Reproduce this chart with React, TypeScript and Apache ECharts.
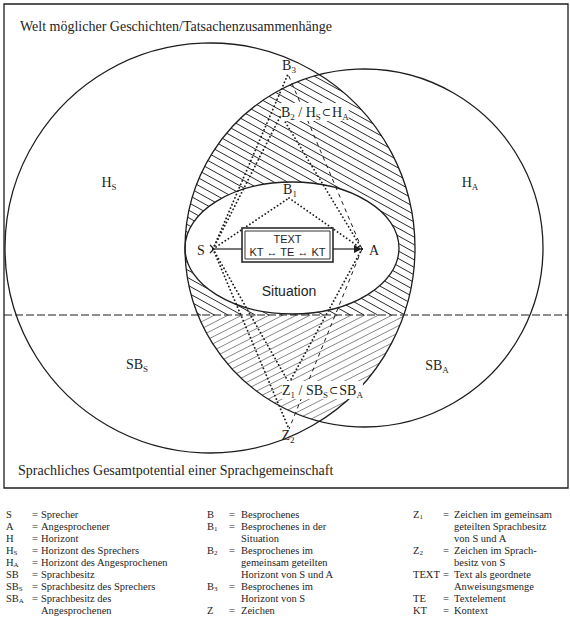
import React, { useEffect, useRef } from 'react';
import * as echarts from 'echarts';

const W = 570;
const H = 630;

// ---- diagram geometry (data units == page pixels) ----
const frameBox = [4, 4, 568, 488];
const dividerY = 315;
const circleCenters = [[210, 248], [364, 248]];
const circleRadii = [205, 179];
const situationCenter = [292, 248];
const situationRadii = [107, 66];
const pointNames = ['S', 'A', 'B1', 'B2', 'B3', 'Z1', 'Z2'];
const pointCoords = [[213, 249], [362, 249], [289, 198], [281, 115], [288, 74], [289, 383], [289, 429]];
const dottedLinks = [['S', 'B1'], ['B1', 'A'], ['S', 'B2'], ['S', 'B3'], ['S', 'Z1'], ['S', 'Z2'], ['A', 'B2'], ['A', 'Z1']];
const dashedLinks = [['A', 'B3'], ['A', 'Z2']];
const textBox = [242, 228, 333, 262];

// ---- texts ----
const titleTop = 'Welt möglicher Geschichten/Tatsachenzusammenhänge';
const titleBottom = 'Sprachliches Gesamtpotential einer Sprachgemeinschaft';
const regionLabels = [
  { text: 'H{s|S}', x: 109, y: 182 },
  { text: 'H{s|A}', x: 470, y: 182 },
  { text: 'SB{s|S}', x: 137, y: 364 },
  { text: 'SB{s|A}', x: 437, y: 365 },
];
const pointLabels = [
  { text: 'S', x: 201, y: 250, align: 'center', knock: false },
  { text: 'A', x: 374, y: 250, align: 'center', knock: false },
  { text: 'B{s|1}', x: 290, y: 189, align: 'center', knock: false },
  { text: 'B{s|3}', x: 289, y: 65, align: 'center', knock: false },
  { text: 'B{s|2} / H{s|S}{c|⊂}H{s|A}', x: 281, y: 112, align: 'left', knock: true },
  { text: 'Z{s|1} / SB{s|S}{c|⊂}SB{s|A}', x: 282, y: 390, align: 'left', knock: true },
  { text: 'Z{s|2}', x: 288, y: 435, align: 'center', knock: false },
];
const boxLine1 = 'TEXT';
const boxLine2 = 'KT ↔ TE ↔ KT';
const situationLabel = 'Situation';

const legendCol1 = [
  { sym: 'S', lines: ['Sprecher'] },
  { sym: 'A', lines: ['Angesprochener'] },
  { sym: 'H', lines: ['Horizont'] },
  { sym: 'H{s|S}', lines: ['Horizont des Sprechers'] },
  { sym: 'H{s|A}', lines: ['Horizont des Angesprochenen'] },
  { sym: 'SB', lines: ['Sprachbesitz'] },
  { sym: 'SB{s|S}', lines: ['Sprachbesitz des Sprechers'] },
  { sym: 'SB{s|A}', lines: ['Sprachbesitz des', 'Angesprochenen'] },
];
const legendCol2 = [
  { sym: 'B', lines: ['Besprochenes'] },
  { sym: 'B{s|1}', lines: ['Besprochenes in der', 'Situation'] },
  { sym: 'B{s|2}', lines: ['Besprochenes im', 'gemeinsam geteilten', 'Horizont von S und A'] },
  { sym: 'B{s|3}', lines: ['Besprochenes im', 'Horizont von S'] },
  { sym: 'Z', lines: ['Zeichen'] },
];
const legendCol3 = [
  { sym: 'Z{s|1}', lines: ['Zeichen im gemeinsam', 'geteilten Sprachbesitz', 'von S und A'] },
  { sym: 'Z{s|2}', lines: ['Zeichen im Sprach-', 'besitz von S'] },
  { sym: 'TEXT', lines: ['Text als geordnete', 'Anweisungsmenge'] },
  { sym: 'TE', lines: ['Textelement'] },
  { sym: 'KT', lines: ['Kontext'] },
];
const legendColumns = [legendCol1, legendCol2, legendCol3];
const legendX = [[6, 32, 41], [207, 229, 241], [413, 443, 454]];
const legendTop = 514;
const legendStep = 12;

const SERIF = '"Liberation Serif", "Times New Roman", "DejaVu Serif", serif';
const SANS = '"Liberation Sans", Arial, Helvetica, sans-serif';
const INK = '#1e1e1e';

function quad(a: number, b: number, c: number): [number, number] | null {
  const disc = b * b - 4 * a * c;
  if (disc < 0) return null;
  const s = Math.sqrt(disc);
  return [(-b - s) / (2 * a), (-b + s) / (2 * a)];
}

// hatch segments of the lens (both circles) minus the situation ellipse, on one side of the divider
function hatch(angleDeg: number, spacing: number, upper: boolean): number[][] {
  const th = (angleDeg * Math.PI) / 180;
  const dx = Math.cos(th);
  const dy = Math.sin(th);
  const nx = -dy;
  const ny = dx;
  const corners = [[150, 30], [450, 30], [150, 470], [450, 470]];
  const cs = corners.map((p) => p[0] * nx + p[1] * ny);
  const cmin = Math.floor(Math.min(...cs) / spacing) * spacing;
  const cmax = Math.max(...cs);
  const segs: number[][] = [];
  for (let c = cmin; c <= cmax; c += spacing) {
    const px = c * nx;
    const py = c * ny;
    let lo = -Infinity;
    let hi = Infinity;
    let ok = true;
    for (let i = 0; i < circleCenters.length; i++) {
      const ox = px - circleCenters[i][0];
      const oy = py - circleCenters[i][1];
      const r = circleRadii[i];
      const iv = quad(1, 2 * (dx * ox + dy * oy), ox * ox + oy * oy - r * r);
      if (!iv) { ok = false; break; }
      lo = Math.max(lo, iv[0]);
      hi = Math.min(hi, iv[1]);
    }
    if (!ok) continue;
    const tY = (dividerY - py) / dy;
    if ((dy > 0) === upper) hi = Math.min(hi, tY);
    else lo = Math.max(lo, tY);
    if (hi <= lo) continue;
    const u = (px - situationCenter[0]) / situationRadii[0];
    const du = dx / situationRadii[0];
    const v = (py - situationCenter[1]) / situationRadii[1];
    const dv = dy / situationRadii[1];
    const e = quad(du * du + dv * dv, 2 * (u * du + v * dv), u * u + v * v - 1);
    const parts: number[][] = [];
    if (!e || e[1] <= lo || e[0] >= hi) parts.push([lo, hi]);
    else {
      if (e[0] > lo) parts.push([lo, e[0]]);
      if (e[1] < hi) parts.push([e[1], hi]);
    }
    parts.forEach(([a, b]) => {
      if (b - a > 0.5) segs.push([px + a * dx, py + a * dy, px + b * dx, py + b * dy]);
    });
  }
  return segs;
}

const makeRich = (size: number, family: string) => ({
  s: { fontSize: Math.round(size * 0.66), fontFamily: family, fill: INK, lineHeight: Math.round(size * 0.62), verticalAlign: 'bottom' },
  c: { fontSize: Math.round(size * 0.8), fontFamily: family, fill: INK, lineHeight: Math.round(size * 1.1), padding: [0, 1, 0, 1] },
});

function renderItem(_params: any, api: any) {
  const P = (x: number, y: number) => api.coord([x, y]);
  const R = (r: number) => api.size([r, r])[0];
  const kids: any[] = [];

  const text = (x: number, y: number, t: string, size: number, family: string, align = 'left', extra: any = {}) => {
    const p = P(x, y);
    kids.push({
      type: 'text',
      x: p[0],
      y: p[1],
      style: {
        text: t,
        fontSize: size,
        fontFamily: family,
        fill: INK,
        lineHeight: Math.round(size * 1.25),
        align,
        verticalAlign: 'middle',
        textAlign: align,
        textVerticalAlign: 'middle',
        rich: makeRich(size, family),
        ...extra,
      },
    });
  };
  const line = (x1: number, y1: number, x2: number, y2: number, style: any) => {
    const a = P(x1, y1);
    const b = P(x2, y2);
    kids.push({ type: 'line', shape: { x1: a[0], y1: a[1], x2: b[0], y2: b[1] }, style });
  };

  // hatching
  hatch(29, 6.6, true).forEach((s) => line(s[0], s[1], s[2], s[3], { stroke: '#2a2a2a', lineWidth: 1 }));
  hatch(-27, 6.2, false).forEach((s) => line(s[0], s[1], s[2], s[3], { stroke: '#555', lineWidth: 0.7 }));

  // frame
  const f0 = P(frameBox[0], frameBox[1]);
  const f1 = P(frameBox[2], frameBox[3]);
  kids.push({ type: 'rect', shape: { x: f0[0], y: f0[1], width: f1[0] - f0[0], height: f1[1] - f0[1] }, style: { fill: 'none', stroke: INK, lineWidth: 1.3 } });

  // circles
  circleCenters.forEach((c, i) => {
    const p = P(c[0], c[1]);
    kids.push({ type: 'circle', shape: { cx: p[0], cy: p[1], r: R(circleRadii[i]) }, style: { fill: 'none', stroke: INK, lineWidth: 1.3 } });
  });
  // situation ellipse
  const sc = P(situationCenter[0], situationCenter[1]);
  kids.push({ type: 'ellipse', shape: { cx: sc[0], cy: sc[1], rx: R(situationRadii[0]), ry: R(situationRadii[1]) }, style: { fill: 'none', stroke: INK, lineWidth: 1.3 } });

  // divider
  line(frameBox[0], dividerY, frameBox[2], dividerY, { stroke: INK, lineWidth: 1.1, lineDash: [8, 3] });

  const pt = (n: string) => pointCoords[pointNames.indexOf(n)];
  dottedLinks.forEach(([a, b]) => {
    const p = pt(a); const q = pt(b);
    line(p[0], p[1], q[0], q[1], { stroke: INK, lineWidth: 1.8, lineDash: [0.1, 3.6], lineCap: 'round' });
  });
  dashedLinks.forEach(([a, b]) => {
    const p = pt(a); const q = pt(b);
    line(p[0], p[1], q[0], q[1], { stroke: INK, lineWidth: 1, lineDash: [4, 4] });
  });

  // text box with arrow S -> A
  const S = pt('S');
  const A = pt('A');
  line(S[0], S[1], textBox[0], S[1], { stroke: INK, lineWidth: 1.2 });
  line(textBox[2], A[1], A[0] - 4, A[1], { stroke: INK, lineWidth: 1.2 });
  const tip = P(A[0], A[1]);
  const back1 = P(A[0] - 8, A[1] - 4);
  const back2 = P(A[0] - 8, A[1] + 4);
  kids.push({ type: 'polygon', shape: { points: [tip, back1, back2] }, style: { fill: INK } });
  const sa = P(S[0] - 3, S[1] - 4);
  const sb = P(S[0] + 1, S[1]);
  const sd = P(S[0] - 3, S[1] + 4);
  kids.push({ type: 'polyline', shape: { points: [sa, sb, sd] }, style: { fill: 'none', stroke: INK, lineWidth: 1.2 } });
  const b0 = P(textBox[0], textBox[1]);
  const b1 = P(textBox[2], textBox[3]);
  kids.push({ type: 'rect', shape: { x: b0[0], y: b0[1], width: b1[0] - b0[0], height: b1[1] - b0[1] }, style: { fill: '#fff', stroke: INK, lineWidth: 1.5 } });
  kids.push({ type: 'rect', shape: { x: b0[0] + 3, y: b0[1] + 3, width: b1[0] - b0[0] - 6, height: b1[1] - b0[1] - 6 }, style: { fill: 'none', stroke: INK, lineWidth: 0.9 } });
  const bx = (textBox[0] + textBox[2]) / 2;
  text(bx, textBox[1] + 11, boxLine1, 11, SANS, 'center');
  text(bx, textBox[1] + 24, boxLine2, 11, SANS, 'center');
  text(situationCenter[0] - 3, 291, situationLabel, 14, SANS, 'center');

  // labels
  text(20, 26, titleTop, 14, SERIF, 'left');
  text(18, 470, titleBottom, 14, SERIF, 'left');
  regionLabels.forEach((l) => text(l.x, l.y, l.text, 14, SERIF, 'center'));
  pointLabels.forEach((l) => text(l.x, l.y, l.text, 14, SERIF, l.align, l.knock ? { backgroundColor: '#fff' } : {}));

  // legend
  legendColumns.forEach((col, ci) => {
    let row = 0;
    const [sx, ex, tx] = legendX[ci];
    col.forEach((entry) => {
      const y = legendTop + row * legendStep;
      text(sx, y, entry.sym, 10.5, SERIF, 'left');
      text(ex, y, '=', 10.5, SERIF, 'left');
      entry.lines.forEach((ln, k) => text(tx, y + k * legendStep, ln, 10.5, SERIF, 'left'));
      row += entry.lines.length;
    });
  });

  return { type: 'group', children: kids };
}

export default function App() {
  const ref = useRef<HTMLDivElement>(null);
  useEffect(() => {
    if (!ref.current) return;
    const chart = echarts.init(ref.current, null, { renderer: 'svg' });
    chart.setOption({
      animation: false,
      backgroundColor: '#fff',
      grid: { left: 0, right: 0, top: 0, bottom: 0 },
      xAxis: { type: 'value', min: 0, max: W, show: false },
      yAxis: { type: 'value', min: 0, max: H, inverse: true, show: false },
      series: [
        {
          type: 'custom',
          coordinateSystem: 'cartesian2d',
          data: [[0, 0]],
          renderItem,
          silent: true,
          clip: false,
        },
      ],
    });
    return () => chart.dispose();
  }, []);
  return <div ref={ref} style={{ position: 'fixed', left: 0, top: 0, width: W, height: H, background: '#fff' }} />;
}
